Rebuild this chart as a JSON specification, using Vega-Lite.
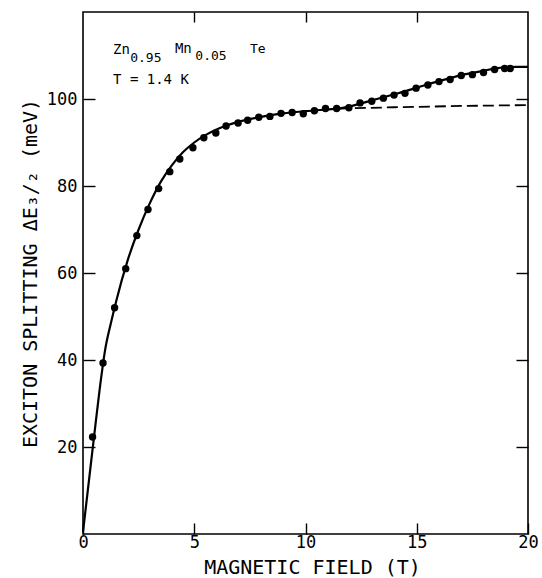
{
  "$schema": "https://vega.github.io/schema/vega-lite/v6.json",
  "width": 445,
  "height": 522,
  "autosize": "none",
  "padding": {"left": 83, "top": 12, "right": 14, "bottom": 44},
  "background": "white",
  "config": {
    "view": {"stroke": "black", "strokeWidth": 1.6},
    "axis": {"grid": false, "domain": false, "tickColor": "black", "tickWidth": 1.4, "labelColor": "black", "titleColor": "black", "labelFont": "DejaVu Sans Mono", "titleFont": "DejaVu Sans Mono", "titleFontWeight": "normal"}
  },
  "datasets": {
    "points": [
      {"T": 0.43, "v": 22.3}, {"T": 0.9, "v": 39.3}, {"T": 1.42, "v": 52.0}, {"T": 1.92, "v": 61.0},
      {"T": 2.42, "v": 68.6}, {"T": 2.92, "v": 74.6}, {"T": 3.4, "v": 79.4}, {"T": 3.9, "v": 83.3},
      {"T": 4.35, "v": 86.2}, {"T": 4.94, "v": 88.8}, {"T": 5.43, "v": 91.1}, {"T": 5.97, "v": 92.2},
      {"T": 6.43, "v": 93.8}, {"T": 6.97, "v": 94.5}, {"T": 7.4, "v": 95.1}, {"T": 7.9, "v": 95.8},
      {"T": 8.4, "v": 96.0}, {"T": 8.9, "v": 96.7}, {"T": 9.4, "v": 96.9}, {"T": 9.9, "v": 96.6},
      {"T": 10.4, "v": 97.3}, {"T": 10.9, "v": 97.8}, {"T": 11.4, "v": 97.8}, {"T": 11.95, "v": 98.0},
      {"T": 12.45, "v": 99.1}, {"T": 12.98, "v": 99.5}, {"T": 13.5, "v": 100.2}, {"T": 13.98, "v": 100.9},
      {"T": 14.47, "v": 101.3}, {"T": 14.97, "v": 102.5}, {"T": 15.5, "v": 103.2}, {"T": 16.0, "v": 104.0},
      {"T": 16.5, "v": 104.5}, {"T": 17.0, "v": 105.4}, {"T": 17.5, "v": 105.6}, {"T": 18.0, "v": 106.1},
      {"T": 18.5, "v": 106.8}, {"T": 18.95, "v": 107.0}, {"T": 19.2, "v": 107.0}
    ],
    "fit": [
      {"T": 0, "v": 0.5}, {"T": 0.25, "v": 11.5}, {"T": 0.5, "v": 22.5}, {"T": 0.75, "v": 33.3},
      {"T": 1.0, "v": 42.5}, {"T": 1.25, "v": 48.4}, {"T": 1.5, "v": 53.7}, {"T": 2.0, "v": 62.8},
      {"T": 2.5, "v": 70.0}, {"T": 3.0, "v": 76.0}, {"T": 3.5, "v": 81.0}, {"T": 4.0, "v": 84.8},
      {"T": 4.5, "v": 87.8}, {"T": 5.0, "v": 90.0}, {"T": 5.5, "v": 91.7}, {"T": 6.0, "v": 93.0},
      {"T": 7.0, "v": 94.8}, {"T": 8.0, "v": 95.9}, {"T": 9.0, "v": 96.7}, {"T": 10.0, "v": 97.2},
      {"T": 11.0, "v": 97.6}, {"T": 11.5, "v": 97.8}, {"T": 12.0, "v": 98.3}, {"T": 12.5, "v": 99.0},
      {"T": 13.0, "v": 99.7}, {"T": 13.5, "v": 100.4}, {"T": 14.0, "v": 101.1}, {"T": 14.5, "v": 101.8},
      {"T": 15.0, "v": 102.6}, {"T": 15.5, "v": 103.4}, {"T": 16.0, "v": 104.1}, {"T": 16.5, "v": 104.8},
      {"T": 17.0, "v": 105.5}, {"T": 17.5, "v": 106.0}, {"T": 18.0, "v": 106.5}, {"T": 18.5, "v": 107.0},
      {"T": 19.0, "v": 107.3}, {"T": 19.5, "v": 107.4}, {"T": 20.0, "v": 107.4}
    ],
    "dashed": [
      {"T": 11.5, "v": 97.8}, {"T": 14.0, "v": 98.1}, {"T": 17.0, "v": 98.4}, {"T": 20.0, "v": 98.6}
    ],
    "mainText": [
      {"text": "Zn", "T": 1.35, "v": 110.3},
      {"text": "Mn", "T": 4.13, "v": 110.5},
      {"text": "T = 1.4 K", "T": 1.35, "v": 103.4}
    ],
    "subText": [
      {"text": "0.95", "T": 2.12, "v": 108.6},
      {"text": "0.05", "T": 5.05, "v": 108.9},
      {"text": "Te", "T": 7.5, "v": 110.5}
    ]
  },
  "resolve": {"axis": {"x": "independent", "y": "independent"}},
  "layer": [
    {
      "data": {"name": "fit"},
      "mark": {"type": "line", "color": "black", "strokeWidth": 2.2, "interpolate": "monotone"},
      "encoding": {
        "x": {"field": "T", "type": "quantitative", "scale": {"domain": [0, 20], "nice": false},
          "axis": {"orient": "bottom", "values": [0, 5, 10, 15, 20], "tickSize": -11, "labelFontSize": 17, "labelPadding": 11, "title": "MAGNETIC FIELD (T)", "titleFontSize": 20, "titlePadding": 7, "titleX": 229, "labelFlush": false}},
        "y": {"field": "v", "type": "quantitative", "scale": {"domain": [0, 120], "nice": false},
          "axis": {"orient": "left", "values": [20, 40, 60, 80, 100], "tickSize": -12, "labelFontSize": 17, "labelPadding": 18, "title": "EXCITON SPLITTING ΔE₃/₂ (meV)", "titleFontSize": 20, "titlePadding": 6}}
      }
    },
    {
      "data": {"name": "dashed"},
      "mark": {"type": "line", "color": "black", "strokeWidth": 1.8, "strokeDash": [11, 5]},
      "encoding": {
        "x": {"field": "T", "type": "quantitative", "axis": null},
        "y": {"field": "v", "type": "quantitative", "axis": null}
      }
    },
    {
      "data": {"name": "points"},
      "mark": {"type": "circle", "color": "black", "opacity": 1, "size": 55},
      "encoding": {
        "x": {"field": "T", "type": "quantitative", "axis": null},
        "y": {"field": "v", "type": "quantitative", "axis": null}
      }
    },
    {
      "data": {"name": "mainText"},
      "mark": {"type": "text", "align": "left", "baseline": "alphabetic", "font": "DejaVu Sans Mono", "fontSize": 14, "color": "black"},
      "encoding": {
        "x": {"field": "T", "type": "quantitative", "axis": null},
        "y": {"field": "v", "type": "quantitative", "axis": null},
        "text": {"field": "text"}
      }
    },
    {
      "data": {"name": "subText"},
      "mark": {"type": "text", "align": "left", "baseline": "alphabetic", "font": "DejaVu Sans Mono", "fontSize": 13, "color": "black"},
      "encoding": {
        "x": {"field": "T", "type": "quantitative", "axis": null},
        "y": {"field": "v", "type": "quantitative", "axis": null},
        "text": {"field": "text"}
      }
    },
    {
      "data": {"name": "dashed"},
      "mark": {"type": "point", "opacity": 0},
      "encoding": {
        "x": {"field": "T", "type": "quantitative",
          "axis": {"orient": "top", "values": [5, 10, 15], "tickSize": -10, "labels": false, "title": null}},
        "y": {"field": "v", "type": "quantitative",
          "axis": {"orient": "right", "values": [20, 40, 60, 80, 100], "tickSize": -12, "labels": false, "title": null}}
      }
    }
  ]
}
